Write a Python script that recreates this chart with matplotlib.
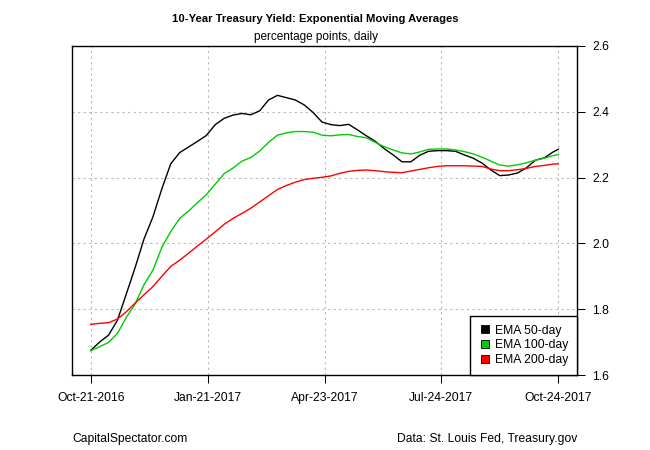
import matplotlib
matplotlib.use("Agg")
import matplotlib.pyplot as plt
import matplotlib.dates as mdates
from matplotlib.lines import Line2D
import pandas as pd

plt.rcParams['font.family'] = ['Liberation Sans', 'DejaVu Sans']

# ---- data (weekly samples, plus the final day) ----
start_date = "2016-10-21"
end_date = "2017-10-24"
dates = list(pd.date_range(start_date, periods=53, freq="7D")) + [pd.Timestamp(end_date)]

ema50 = [1.675, 1.700, 1.721, 1.766, 1.846, 1.927, 2.014, 2.081, 2.166, 2.242,
         2.276, 2.293, 2.310, 2.328, 2.361, 2.380, 2.390, 2.395, 2.391, 2.403,
         2.436, 2.450, 2.443, 2.436, 2.421, 2.398, 2.369, 2.361, 2.358, 2.362,
         2.345, 2.327, 2.310, 2.288, 2.269, 2.248, 2.248, 2.268, 2.280, 2.282,
         2.282, 2.280, 2.269, 2.259, 2.244, 2.223, 2.206, 2.208, 2.214, 2.230,
         2.253, 2.260, 2.278, 2.286]

ema100 = [1.674, 1.686, 1.699, 1.726, 1.775, 1.816, 1.875, 1.919, 1.988, 2.036,
          2.076, 2.098, 2.124, 2.148, 2.180, 2.212, 2.229, 2.250, 2.261, 2.281,
          2.307, 2.329, 2.336, 2.340, 2.340, 2.338, 2.329, 2.327, 2.330, 2.331,
          2.325, 2.321, 2.307, 2.294, 2.284, 2.275, 2.272, 2.278, 2.286, 2.287,
          2.287, 2.284, 2.279, 2.272, 2.262, 2.250, 2.238, 2.235, 2.239, 2.245,
          2.253, 2.259, 2.267, 2.270]

ema200 = [1.754, 1.757, 1.759, 1.770, 1.792, 1.819, 1.844, 1.869, 1.900, 1.930,
          1.949, 1.970, 1.992, 2.013, 2.035, 2.058, 2.076, 2.091, 2.107, 2.126,
          2.145, 2.164, 2.176, 2.186, 2.194, 2.198, 2.201, 2.205, 2.213, 2.219,
          2.222, 2.223, 2.221, 2.218, 2.216, 2.215, 2.220, 2.225, 2.230, 2.234,
          2.236, 2.236, 2.236, 2.235, 2.234, 2.226, 2.221, 2.221, 2.224, 2.228,
          2.234, 2.237, 2.241, 2.242]

series_names = ["EMA 50-day", "EMA 100-day", "EMA 200-day"]
series_colors = ["#000000", "#00CC00", "#FF0000"]

tick_dates = ["2016-10-21", "2017-01-21", "2017-04-23", "2017-07-24", "2017-10-24"]
tick_labels = ["Oct-21-2016", "Jan-21-2017", "Apr-23-2017", "Jul-24-2017", "Oct-24-2017"]
y_ticks = [1.6, 1.8, 2.0, 2.2, 2.4, 2.6]

title = "10-Year Treasury Yield: Exponential Moving Averages"
subtitle = "percentage points, daily"
left_note = "CapitalSpectator.com"
right_note = "Data: St. Louis Fed, Treasury.gov"

# ---- figure ----
W, H = 650, 450
fig = plt.figure(figsize=(W / 100, H / 100), dpi=100)
ax = fig.add_axes([72 / W, 1 - 375 / H, (577 - 72) / W, (375 - 46) / H])

fs = 8.7
for vals, name, col in zip([ema50, ema100, ema200], series_names, series_colors):
    ax.plot(dates, vals, color=col, lw=1.0, label=name)

d0 = mdates.date2num(pd.Timestamp(start_date))
d1 = mdates.date2num(pd.Timestamp(end_date))
pad = 0.04 * (d1 - d0)
ax.set_xlim(d0 - pad, d1 + pad)
ax.set_ylim(1.6, 2.6)

tick_nums = [mdates.date2num(pd.Timestamp(d)) for d in tick_dates]
ax.set_xticks(tick_nums)
ax.set_xticklabels(tick_labels, fontsize=fs)
ax.set_yticks(y_ticks)
ax.set_yticklabels([f"{v:.1f}" for v in y_ticks], fontsize=fs)
ax.yaxis.tick_right()
ax.tick_params(axis='x', length=5.5, width=0.75, pad=7, colors='black')
ax.tick_params(axis='y', length=6, width=0.75, pad=5, colors='black')

ax.grid(True, color='#b8b8b8', linestyle=(0, (2, 3)), linewidth=0.8)
ax.set_axisbelow(True)
for sp in ax.spines.values():
    sp.set_linewidth(1.0)
    sp.set_color('black')

handles = [Line2D([0], [0], marker='s', linestyle='none', markersize=6,
                  markerfacecolor=c, markeredgecolor='black', markeredgewidth=0.6)
           for c in series_colors]
leg = ax.legend(handles, series_names, loc='lower right', bbox_to_anchor=(1, 0),
                borderaxespad=0, frameon=True, fancybox=False, framealpha=1,
                edgecolor='black', fontsize=fs, handlelength=1.0, handletextpad=0.3,
                labelspacing=0.22, borderpad=0.75)
leg.get_frame().set_linewidth(1.0)

fig.text(315.5 / W, 1 - 19 / H, title, ha='center', va='center',
         fontsize=8.15, fontweight='bold')
fig.text(315.5 / W, 1 - 37 / H, subtitle, ha='center', va='center', fontsize=8.5)
fig.text(72 / W, 1 - 439 / H, left_note, ha='left', va='center', fontsize=fs)
fig.text(577 / W, 1 - 439 / H, right_note, ha='right', va='center', fontsize=fs)

fig.savefig("out.png", dpi=100, facecolor='white')
